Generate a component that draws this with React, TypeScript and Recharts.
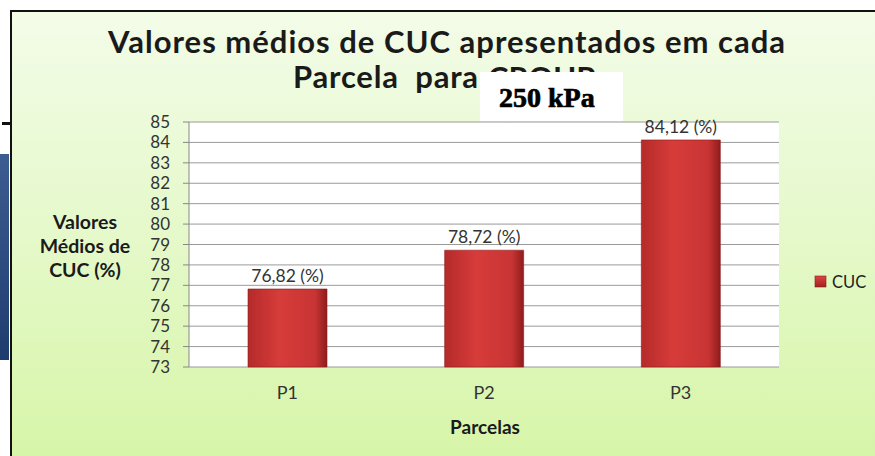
import { BarChart, Bar, XAxis, YAxis, CartesianGrid, LabelList } from 'recharts';

const parcelas = ['P1', 'P2', 'P3'];
const cucValues = [76.82, 78.72, 84.12];
const yTicks = [73, 74, 75, 76, 77, 78, 79, 80, 81, 82, 83, 84, 85];
const bandEdges = [0, 1, 2, 3];

const data = parcelas.map((p, i) => ({ parcela: p, cuc: cucValues[i] }));

const font = 'Lato, "Open Sans", sans-serif';
const fmt = (v: number) => `${v.toFixed(2).replace('.', ',')} (%)`;

export default function App() {
    return (
        <div style={{ position: 'absolute', left: 0, top: 0, width: 875, height: 456, overflow: 'hidden', background: '#fff', fontFamily: font }}>
            {/* bits of the slide behind the chart */}
            <div style={{ position: 'absolute', left: 0, top: 154, width: 9, height: 206, background: 'linear-gradient(180deg,#3c5d92,#1f3c6e)' }} />
            <div style={{ position: 'absolute', left: 2, top: 122, width: 9, height: 3, background: '#111' }} />
            <div style={{
                position: 'absolute', left: 10, top: 10, width: 880, height: 460,
                borderTop: '2px solid #111', borderLeft: '2px solid #111',
                background: 'linear-gradient(180deg,#f3fce8 0%,#e6f9cc 45%,#d6f5a6 100%)',
            }} />
            <div style={{ position: 'absolute', left: 0, top: 0 }}>
                <BarChart width={875} height={456} data={data} margin={{ top: 122, right: 96, bottom: 49, left: 149 }}>
                    <defs>
                        <linearGradient id="barGrad" x1="0" y1="0" x2="1" y2="0">
                            <stop offset="0%" stopColor="#b52a2a" />
                            <stop offset="40%" stopColor="#d63c3a" />
                            <stop offset="85%" stopColor="#c83434" />
                            <stop offset="100%" stopColor="#8f1c1c" />
                        </linearGradient>
                    </defs>
                    <CartesianGrid horizontal vertical={false} stroke="#9a9a9a" fill="#fff" />
                    <XAxis xAxisId="edges" type="number" domain={[0, 3]} ticks={bandEdges} height={0}
                        tickFormatter={() => ''} tickSize={5} stroke="#888" />
                    <XAxis xAxisId="cat" dataKey="parcela" height={40} axisLine={false} tickLine={false}
                        tickMargin={13} tick={{ fill: '#333', fontSize: 18, fontFamily: font }} />
                    <YAxis domain={[73, 85]} ticks={yTicks} width={40} interval={0} tickSize={6} tickMargin={13}
                        stroke="#888" tick={{ fill: '#333', fontSize: 17, fontFamily: font }} />
                    <Bar xAxisId="cat" dataKey="cuc" fill="url(#barGrad)" stroke="#8a1c1c" strokeWidth={0.6}
                        barSize={79} isAnimationActive={false}>
                        <LabelList dataKey="cuc" position="top" offset={7} formatter={(v: any) => fmt(Number(v))}
                            style={{ fill: '#333', fontSize: 17.5, fontFamily: font }} />
                    </Bar>
                </BarChart>
            </div>
            <svg width={875} height={456} style={{ position: 'absolute', left: 0, top: 0, pointerEvents: 'none' }}>
                <defs>
                    <linearGradient id="legGrad" x1="0" y1="0" x2="0" y2="1">
                        <stop offset="0%" stopColor="#e04444" />
                        <stop offset="100%" stopColor="#a02222" />
                    </linearGradient>
                    <clipPath id="peek">
                        <rect x={470} y={64} width={160} height={8} />
                    </clipPath>
                </defs>
                <g fontFamily={font} fontWeight={700} fill="#1a1a1a">
                    <text x={108} y={53} fontSize={31} textLength={677} lengthAdjust="spacing">Valores médios de CUC apresentados em cada</text>
                    <text x={293} y={88} fontSize={31} textLength={185} lengthAdjust="spacing" style={{ whiteSpace: 'pre' }}>Parcela  para</text>
                    <text x={488} y={89} fontSize={31} clipPath="url(#peek)">CROUP</text>
                    <text x={85} y={229} fontSize={19.5} textAnchor="middle">Valores</text>
                    <text x={85} y={253} fontSize={19.5} textAnchor="middle">Médios de</text>
                    <text x={85} y={277} fontSize={19.5} textAnchor="middle">CUC (%)</text>
                    <text x={485} y={434} fontSize={19} textAnchor="middle">Parcelas</text>
                </g>
                <rect x={480} y={72} width={143} height={49} fill="#fff" />
                <text x={499} y={107} fontSize={28} fontWeight={700} fontFamily='"Liberation Serif", "DejaVu Serif", serif'
                    fill="#000" stroke="#000" strokeWidth={0.7}>250 kPa</text>
                <rect x={815} y={276} width={11} height={11} fill="url(#legGrad)" stroke="#8a1c1c" strokeWidth={0.6} />
                <text x={832} y={288} fontSize={16.5} fontFamily={font} fill="#222">CUC</text>
            </svg>
        </div>
    );
}
